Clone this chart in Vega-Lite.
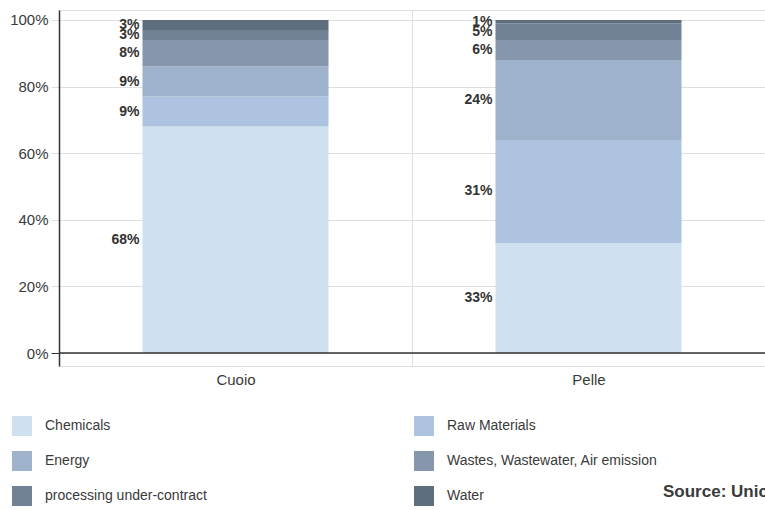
{
  "$schema": "https://vega.github.io/schema/vega-lite/v6.json",
  "width": 706,
  "height": 356,
  "autosize": {"type": "none"},
  "padding": {"left": 59, "top": 10, "right": 0, "bottom": 144},
  "background": "white",
  "title": {
    "text": "Source: Unic",
    "orient": "bottom",
    "anchor": "end",
    "frame": "group",
    "align": "left",
    "dx": -102,
    "dy": -26,
    "font": "Liberation Sans",
    "fontSize": 17,
    "fontWeight": "bold",
    "color": "#3a3a3a"
  },
  "data": {
    "values": [
      {"material": "Cuoio", "category": "Chemicals", "share": 0.68},
      {"material": "Cuoio", "category": "Raw Materials", "share": 0.09},
      {"material": "Cuoio", "category": "Energy", "share": 0.09},
      {"material": "Cuoio", "category": "Wastes, Wastewater, Air emission", "share": 0.08},
      {"material": "Cuoio", "category": "processing under-contract", "share": 0.03},
      {"material": "Cuoio", "category": "Water", "share": 0.03},
      {"material": "Pelle", "category": "Chemicals", "share": 0.33},
      {"material": "Pelle", "category": "Raw Materials", "share": 0.31},
      {"material": "Pelle", "category": "Energy", "share": 0.24},
      {"material": "Pelle", "category": "Wastes, Wastewater, Air emission", "share": 0.06},
      {"material": "Pelle", "category": "processing under-contract", "share": 0.05},
      {"material": "Pelle", "category": "Water", "share": 0.01}
    ]
  },
  "transform": [
    {"stack": "share", "groupby": ["material"], "as": ["lo", "hi"]},
    {"calculate": "(datum.lo + datum.hi) / 2", "as": "mid"}
  ],
  "layer": [
    {
      "mark": {"type": "bar", "width": {"band": 0.527}},
      "encoding": {
        "x": {
          "field": "material",
          "type": "nominal",
          "sort": ["Cuoio", "Pelle"],
          "scale": {"paddingInner": 0, "paddingOuter": 0},
          "axis": {
            "title": null,
            "labelAngle": 0,
            "ticks": false,
            "domain": false,
            "grid": true,
            "tickBand": "extent",
            "gridColor": "#dedede",
            "labelPadding": 6,
            "labelFontSize": 15,
            "labelFont": "Liberation Sans",
            "labelColor": "#3a3a3a"
          }
        },
        "y": {
          "field": "lo",
          "type": "quantitative",
          "scale": {"domain": [-0.039, 1.03], "nice": false, "zero": false},
          "axis": {
            "title": null,
            "values": [0, 0.2, 0.4, 0.6, 0.8, 1],
            "format": ".0%",
            "grid": true,
            "gridColor": "#dedede",
            "tickSize": 8,
            "tickColor": {"condition": {"test": "datum.value === 0", "value": "#333333"}, "value": "#dedede"},
            "labelPadding": 3,
            "labelFontSize": 15,
            "labelFont": "Liberation Sans",
            "labelColor": "#3a3a3a",
            "domainColor": "#333333",
            "domainWidth": 1.5
          }
        },
        "y2": {"field": "hi"},
        "color": {
          "field": "category",
          "type": "nominal",
          "scale": {
            "domain": ["Chemicals", "Raw Materials", "Energy", "Wastes, Wastewater, Air emission", "processing under-contract", "Water"],
            "range": ["#cfe1f0", "#adc3e0", "#9fb2cb", "#8696ac", "#718297", "#5e6e7f"]
          },
          "legend": {
            "title": null,
            "orient": "none",
            "legendX": -47,
            "legendY": 406,
            "columns": 2,
            "direction": "horizontal",
            "padding": 0,
            "symbolType": "square",
            "symbolSize": 400,
            "symbolStrokeWidth": 0,
            "symbolOpacity": 1,
            "labelFontSize": 14,
            "labelFont": "Liberation Sans",
            "labelColor": "#3a3a3a",
            "labelOffset": 13,
            "labelLimit": 400,
            "rowPadding": 15,
            "columnPadding": 207
          }
        }
      }
    },
    {
      "mark": {
        "type": "text",
        "align": "right",
        "baseline": "middle",
        "dx": -96,
        "font": "Liberation Sans",
        "fontSize": 14,
        "fontWeight": "bold",
        "color": "#333333"
      },
      "encoding": {
        "x": {"field": "material", "type": "nominal", "sort": ["Cuoio", "Pelle"]},
        "y": {"field": "mid", "type": "quantitative"},
        "text": {"field": "share", "type": "quantitative", "format": ".0%"}
      }
    },
    {
      "data": {"values": [{"baseline": 0}]},
      "mark": {"type": "rule", "color": "#333333", "strokeWidth": 1.5},
      "encoding": {"y": {"field": "baseline", "type": "quantitative"}}
    }
  ]
}
